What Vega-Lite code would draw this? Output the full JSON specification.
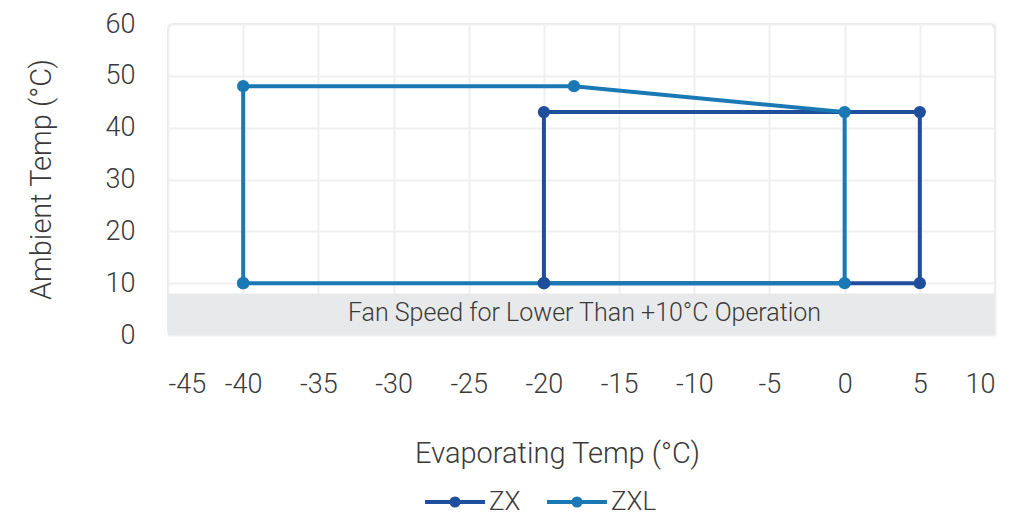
{
  "$schema": "https://vega.github.io/schema/vega-lite/v6.json",
  "autosize": "none",
  "width": 827,
  "height": 311,
  "padding": {"left": 168, "top": 24, "right": 26, "bottom": 187},
  "background": "white",
  "config": {
    "font": "Roboto Light, Lato Light, Roboto",
    "view": {"stroke": "#e6e6e6", "strokeWidth": 2, "cornerRadius": 6},
    "axis": {"gridColor": "#efefef", "gridWidth": 2, "domain": false, "ticks": false, "labelFont": "Roboto Light, Lato Light, Roboto", "labelFontWeight": 300, "labelFontSize": 27, "labelColor": "#3a3a3a", "titleFont": "Roboto Light, Lato Light, Roboto", "titleFontWeight": 300, "titleFontSize": 29, "titleColor": "#3a3a3a"}
  },
  "datasets": {
    "lines": [
      {"series": "ZX", "ord": 1, "evap": -20, "amb": 10},
      {"series": "ZX", "ord": 2, "evap": -20, "amb": 43},
      {"series": "ZX", "ord": 3, "evap": 5, "amb": 43},
      {"series": "ZX", "ord": 4, "evap": 5, "amb": 10},
      {"series": "ZX", "ord": 5, "evap": -20, "amb": 10},
      {"series": "ZXL", "ord": 1, "evap": -40, "amb": 10},
      {"series": "ZXL", "ord": 2, "evap": -40, "amb": 48},
      {"series": "ZXL", "ord": 3, "evap": -18, "amb": 48},
      {"series": "ZXL", "ord": 4, "evap": 0, "amb": 43},
      {"series": "ZXL", "ord": 5, "evap": 0, "amb": 10},
      {"series": "ZXL", "ord": 6, "evap": -40, "amb": 10}
    ],
    "band": [
      {"x1": -45, "x2": 10, "y1": 0, "y2": 8, "xm": -17.3, "ym": 4.3, "label": "Fan Speed for Lower Than +10°C Operation"}
    ]
  },
  "layer": [
    {
      "data": {"name": "band"},
      "mark": {"type": "rect", "color": "#e8e9ea"},
      "encoding": {
        "x": {"field": "x1", "type": "quantitative", "scale": {"domain": [-45, 10], "nice": false, "zero": false},
          "axis": {"values": [-45,-40,-35,-30,-25,-20,-15,-10,-5,0,5,10], "labelExpr": "replace(datum.label, '\u2212', '-')", "labelPadding": 36, "title": "Evaporating Temp (°C)", "titleX": 389, "titleY": 118, "titleBaseline": "middle", "titleAnchor": "start", "titleAlign": "center"}},
        "x2": {"field": "x2"},
        "y": {"field": "y1", "type": "quantitative", "scale": {"domain": [0, 60], "nice": false},
          "axis": {"values": [0,10,20,30,40,50,60], "labelPadding": 33, "title": "Ambient Temp (°C)", "titleX": -112, "titleY": 155, "titleAngle": -90, "titleAlign": "center", "titleBaseline": "bottom"}},
        "y2": {"field": "y2"}
      }
    },
    {
      "data": {"name": "band"},
      "mark": {"type": "text", "font": "Roboto Light, Lato Light, Roboto", "fontWeight": 300, "fontSize": 25, "color": "#3a3a3a"},
      "encoding": {
        "x": {"field": "xm", "type": "quantitative"},
        "y": {"field": "ym", "type": "quantitative"},
        "text": {"field": "label"}
      }
    },
    {
      "data": {"name": "lines"},
      "mark": {"type": "line", "strokeWidth": 4, "point": {"filled": true, "size": 150}},
      "encoding": {
        "x": {"field": "evap", "type": "quantitative"},
        "y": {"field": "amb", "type": "quantitative"},
        "order": {"field": "ord", "type": "quantitative"},
        "color": {"field": "series", "type": "nominal",
          "scale": {"domain": ["ZX", "ZXL"], "range": ["#1f4e9c", "#1a78b4"]},
          "legend": {"title": null, "orient": "none", "direction": "horizontal", "legendX": 255, "legendY": 446,
            "symbolType": "M-1,0H1M0,-0.12A0.12,0.12,0,1,1,0,0.12A0.12,0.12,0,1,1,0,-0.12Z", "symbolSize": 3600, "symbolStrokeWidth": 4,
            "labelFont": "Roboto Light, Lato Light, Roboto", "labelFontWeight": 300, "labelFontSize": 26, "labelColor": "#3a3a3a", "columnPadding": 18, "labelOffset": 2}}
      }
    }
  ]
}
